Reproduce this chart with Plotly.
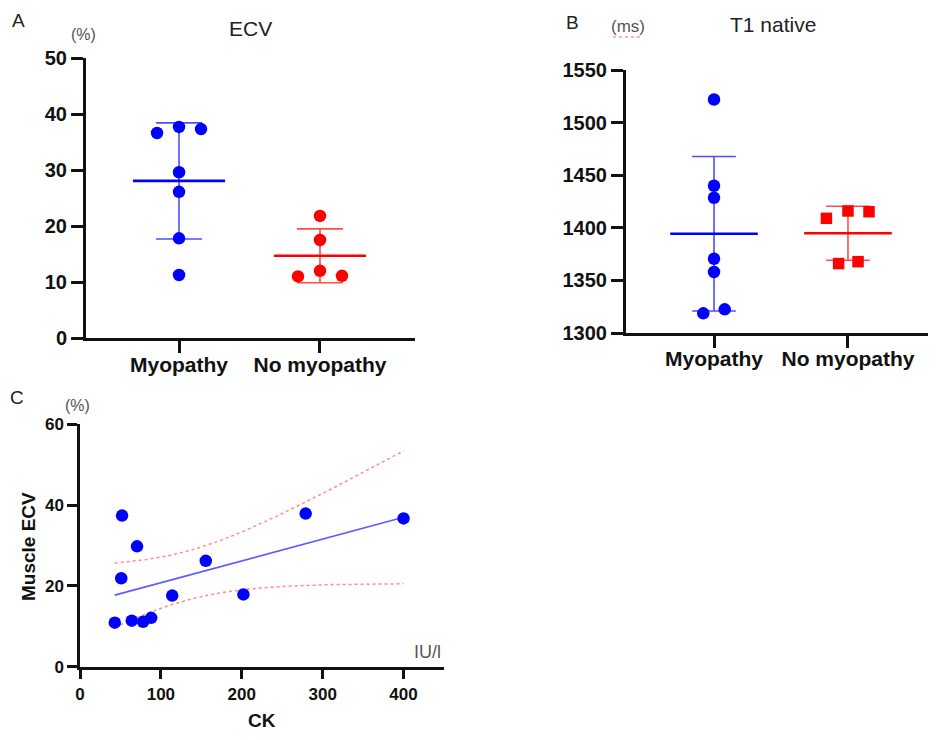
import numpy as np
import plotly.graph_objects as go

# ---------------- data ----------------
groups = ["Myopathy", "No myopathy"]

ecv_myopathy = [36.6, 37.7, 37.3, 29.6, 26.1, 17.8, 11.25]
ecv_no_myopathy = [21.8, 17.5, 12.0, 11.0, 11.1]

t1_myopathy = [1522, 1440, 1428.6, 1370.6, 1358, 1318.7, 1322.5]
t1_no_myopathy = [1409, 1416, 1415.3, 1366, 1367.8]

ck_values = [43, 52, 51, 70.5, 64, 78, 88, 114, 155.5, 202, 279, 400]
muscle_ecv = [10.9, 37.4, 21.9, 29.8, 11.4, 11.1, 12.1, 17.6, 26.2, 17.9, 37.9, 36.7]

ecv_ticks = [0, 10, 20, 30, 40, 50]
t1_ticks = [1300, 1350, 1400, 1450, 1500, 1550]
ck_ticks = [0, 100, 200, 300, 400]
mecv_ticks = [0, 20, 40, 60]

# ---------------- layout helpers (positions / styles) ----------------
# page body has an 8px margin, so the figure is drawn 8px in from the corner
OFF = 8
W, H = 936 - OFF, 740 - OFF
BLUE = "#0000ff"
RED = "#ff0000"
BLUE_LIGHT = "#4d4dff"
RED_LIGHT = "#ff4d4d"

# horizontal scatter offsets (in category units), kept separate from data
jit_a_myo = [-0.156, 0, 0.156, 0, 0, 0, 0]
jit_a_no = [0, 0, 0, -0.156, 0.156]
jit_b_myo = [0, 0, 0, 0, 0, -0.08, 0.08]
jit_b_no = [-0.161, 0, 0.157, -0.07, 0.075]

MEAN_HALF = 0.327
CAP_HALF = 0.163


def px(x):
    return min(1.0, (x - OFF) / W)


def py(y):
    return 1 - (y - OFF) / H


fig = go.Figure()


def add_group(xa, ya, pos, values, jitter, color, light, symbol, size):
    v = np.array(values, dtype=float)
    m = v.mean()
    s = v.std(ddof=1)
    fig.add_trace(go.Scatter(x=[pos, pos], y=[m - s, m + s], mode="lines",
                             line=dict(color=light, width=1.6), xaxis=xa, yaxis=ya,
                             showlegend=False, hoverinfo="skip"))
    for yy in (m - s, m + s):
        fig.add_trace(go.Scatter(x=[pos - CAP_HALF, pos + CAP_HALF], y=[yy, yy], mode="lines",
                                 line=dict(color=light, width=1.6), xaxis=xa, yaxis=ya,
                                 showlegend=False, hoverinfo="skip"))
    fig.add_trace(go.Scatter(x=[pos - MEAN_HALF, pos + MEAN_HALF], y=[m, m], mode="lines",
                             line=dict(color=color, width=2.6), xaxis=xa, yaxis=ya,
                             showlegend=False, hoverinfo="skip"))
    fig.add_trace(go.Scatter(x=[pos + j for j in jitter], y=values, mode="markers",
                             marker=dict(color=color, size=size, symbol=symbol, line=dict(width=0)),
                             xaxis=xa, yaxis=ya, showlegend=False))


add_group("x", "y", 1, ecv_myopathy, jit_a_myo, BLUE, BLUE_LIGHT, "circle", 12.5)
add_group("x", "y", 2, ecv_no_myopathy, jit_a_no, RED, RED_LIGHT, "circle", 12.5)
add_group("x2", "y2", 1, t1_myopathy, jit_b_myo, BLUE, BLUE_LIGHT, "circle", 12.5)
add_group("x2", "y2", 2, t1_no_myopathy, jit_b_no, RED, RED_LIGHT, "square", 11.5)

# ---------------- panel C regression ----------------
xc = np.array(ck_values, dtype=float)
yc = np.array(muscle_ecv, dtype=float)
n = len(xc)
slope, intercept = np.polyfit(xc, yc, 1)
resid = yc - (slope * xc + intercept)
s_err = np.sqrt(np.sum(resid ** 2) / (n - 2))
t_crit = 2.228139  # t(0.975, df=10)
sxx = np.sum((xc - xc.mean()) ** 2)
xg = np.linspace(xc.min(), xc.max(), 120)
yg = slope * xg + intercept
half = t_crit * s_err * np.sqrt(1 / n + (xg - xc.mean()) ** 2 / sxx)

fig.add_trace(go.Scatter(x=xg, y=yg + half, mode="lines",
                         line=dict(color="#ff8c8c", width=1.5, dash="dot"),
                         xaxis="x3", yaxis="y3", showlegend=False, hoverinfo="skip"))
fig.add_trace(go.Scatter(x=xg, y=yg - half, mode="lines",
                         line=dict(color="#ff8c8c", width=1.5, dash="dot"),
                         xaxis="x3", yaxis="y3", showlegend=False, hoverinfo="skip"))
fig.add_trace(go.Scatter(x=[xg[0], xg[-1]], y=[yg[0], yg[-1]], mode="lines",
                         line=dict(color="#5c5cff", width=1.6),
                         xaxis="x3", yaxis="y3", showlegend=False, hoverinfo="skip"))
fig.add_trace(go.Scatter(x=ck_values, y=muscle_ecv, mode="markers",
                         marker=dict(color=BLUE, size=12.5, line=dict(width=0)),
                         xaxis="x3", yaxis="y3", showlegend=False))

# ---------------- axes ----------------
FONT = "Liberation Sans, Arial, sans-serif"
big_tick = dict(family=FONT, size=20, color="#111111", weight="bold")
cat_tick = dict(family=FONT, size=21, color="#111111", weight="bold")
small_tick = dict(family=FONT, size=17, color="#111111", weight="bold")
common = dict(showgrid=False, zeroline=False, showline=True, linecolor="#111111",
              ticks="outside", tickcolor="#111111", fixedrange=True, automargin=False)

fig.update_layout(
    template="none",
    width=W, height=H,
    margin=dict(l=0, r=0, t=0, b=0, pad=0),
    paper_bgcolor="white", plot_bgcolor="white",
    xaxis=dict(domain=[px(86), px(415)], range=[0.34, 2.674], anchor="y",
               tickvals=[1, 2], ticktext=groups, tickfont=cat_tick, ticklabelstandoff=-6,
               linewidth=3, tickwidth=3, ticklen=12, **common),
    yaxis=dict(domain=[py(338), py(58)], range=[0, 50], anchor="x",
               tickvals=ecv_ticks, tickfont=big_tick,
               linewidth=3, tickwidth=3, ticklen=12, **common),
    xaxis2=dict(domain=[px(626), 1.0], range=[0.343, 2.657], anchor="y2",
                tickvals=[1, 2], ticktext=groups, tickfont=cat_tick, ticklabelstandoff=-7,
                linewidth=3, tickwidth=3, ticklen=12, **common),
    yaxis2=dict(domain=[py(333), py(70)], range=[1300, 1550], anchor="x2",
                tickvals=t1_ticks, tickfont=big_tick,
                linewidth=3, tickwidth=3, ticklen=12, **common),
    xaxis3=dict(domain=[px(80), px(444)], range=[0, 450], anchor="y3",
                tickvals=ck_ticks, tickfont=small_tick,
                linewidth=2.5, tickwidth=2.5, ticklen=10, **common),
    yaxis3=dict(domain=[py(666.7), py(424.3)], range=[0, 60], anchor="x3",
                tickvals=mecv_ticks, tickfont=small_tick,
                linewidth=2.5, tickwidth=2.5, ticklen=10, **common),
)

# ---------------- texts ----------------
def note(text, x, y, size, color="#222222", bold=False, angle=0, family=FONT):
    fig.add_annotation(text=text, x=px(x), y=py(y), xref="paper", yref="paper",
                       showarrow=False, xanchor="center", yanchor="middle", textangle=angle,
                       font=dict(family=family, size=size, color=color,
                                 weight="bold" if bold else "normal"))


note("A", 18, 20, 19)
note("ECV", 250, 28, 21)
note("(%)", 83, 35, 16, color="#555555")
note("B", 572, 22, 19)
note("(ms)", 628, 27, 17, color="#555555")
note("T1 native", 773, 25, 21)
note("C", 17, 397, 19)
note("(%)", 77, 405, 16, color="#555555")
note("Muscle ECV", 28, 547, 19, color="#111111", bold=True, angle=-90)
note("CK", 262, 720, 19, color="#111111", bold=True)
note("IU/l", 427, 652, 18, color="#555555")

# spell-check style underline under "(ms)"
fig.add_shape(type="line", xref="paper", yref="paper",
              x0=px(613), x1=px(643), y0=py(37), y1=py(37),
              line=dict(color="#ff6666", width=1, dash="dot"))

fig.write_html("out.html")
